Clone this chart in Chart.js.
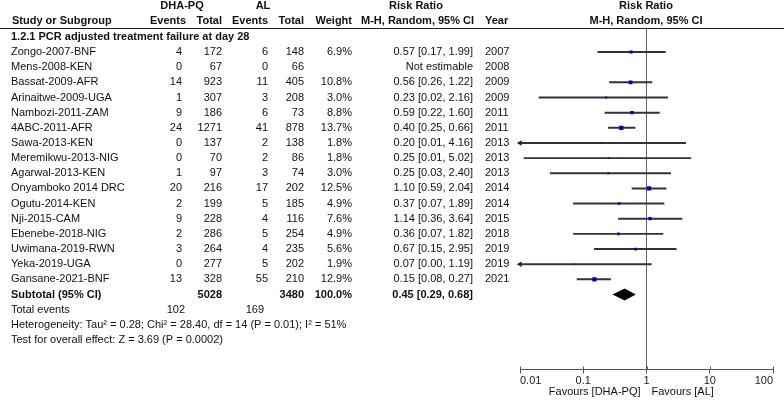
<!DOCTYPE html>
<html>
<head>
<meta charset="utf-8">
<script src="https://cdn.jsdelivr.net/npm/chart.js@4.4.1/dist/chart.umd.min.js"></script>
<style>
html,body{margin:0;padding:0;background:#fff;}
#wrap{width:784px;height:400px;}
</style>
</head>
<body>
<div id="wrap"><canvas id="c" width="784" height="400"></canvas></div>
<script>
const studies = ["Zongo-2007-BNF","Mens-2008-KEN","Bassat-2009-AFR","Arinaitwe-2009-UGA","Nambozi-2011-ZAM","4ABC-2011-AFR","Sawa-2013-KEN","Meremikwu-2013-NIG","Agarwal-2013-KEN","Onyamboko 2014 DRC","Ogutu-2014-KEN","Nji-2015-CAM","Ebenebe-2018-NIG","Uwimana-2019-RWN","Yeka-2019-UGA","Gansane-2021-BNF"];
const dhaEvents = [4,0,14,1,9,24,0,0,1,20,2,9,2,3,0,13];
const dhaTotal = [172,67,923,307,186,1271,137,70,97,216,199,228,286,264,277,328];
const alEvents = [6,0,11,3,6,41,2,2,3,17,5,4,5,4,5,55];
const alTotal = [148,66,405,208,73,878,138,86,74,202,185,116,254,235,202,210];
const weights = [6.9,null,10.8,3.0,8.8,13.7,1.8,1.8,3.0,12.5,4.9,7.6,4.9,5.6,1.9,12.9];
const rr = [0.57,null,0.56,0.23,0.59,0.40,0.20,0.25,0.25,1.10,0.37,1.14,0.36,0.67,0.07,0.15];
const ciLow = [0.17,null,0.26,0.02,0.22,0.25,0.0096,0.0116,0.03,0.59,0.07,0.36,0.07,0.15,0.004,0.08];
const ciHigh = [1.99,null,1.22,2.16,1.60,0.66,4.16,5.02,2.40,2.04,1.89,3.64,1.82,2.95,1.19,0.27];
const years = [2007,2008,2009,2009,2011,2011,2013,2013,2013,2014,2014,2015,2018,2019,2019,2021];
const summary = {rr:0.45, lo:0.29, hi:0.68, dhaTotal:5028, alTotal:3480, weight:"100.0%", dhaEv:102, alEv:169};
const tickValues = [0.01,0.1,1,10,100];
const tickLabels = ["0.01","0.1","1","10","100"];
const heading = "1.2.1 PCR adjusted treatment failure at day 28";
const hetText = "Heterogeneity: Tau\u00b2 = 0.28; Chi\u00b2 = 28.40, df = 14 (P = 0.01); I\u00b2 = 51%";
const testText = "Test for overall effect: Z = 3.69 (P = 0.0002)";

const X_MIN = 0.01, X_MAX = 100;
const Y_TOP = -1.586, Y_BOT = 20.95;
const SUB_ROW = studies.length; // 16
const FONT = '"Liberation Sans", Arial, sans-serif';

const ciData = studies.map((s,i)=> rr[i]==null ? null : ({y:i, x:[ciLow[i], ciHigh[i]]})).filter(d=>d);
const ptData = studies.map((s,i)=> rr[i]==null ? null : ({x:rr[i], y:i, w:weights[i]})).filter(d=>d);
const arrowData = studies.map((s,i)=> (rr[i]!=null && ciLow[i] < X_MIN) ? ({x:X_MIN, y:i}) : null).filter(d=>d);

const textPlugin = {
  id:'forestText',
  afterDraw(chart){
    const ctx = chart.ctx, ys = chart.scales.y, xs = chart.scales.x;
    const yp = v => ys.getPixelForValue(v);
    ctx.save();
    ctx.textBaseline = 'middle';
    ctx.fillStyle = '#111';
    const t = (str, x, y, align, bold, size) => {
      ctx.font = (bold?'bold ':'') + (size||11) + 'px ' + FONT;
      ctx.textAlign = align || 'left';
      ctx.fillText(String(str), x, y);
    };
    ctx.strokeStyle = '#222'; ctx.lineWidth = 1;
    ctx.beginPath(); ctx.moveTo(0, 28.5); ctx.lineTo(784, 28.5); ctx.stroke();
    // upper halves of the axis tick marks
    const yb = chart.chartArea.bottom;
    ctx.strokeStyle = '#555';
    tickValues.forEach(v => {
      const px = Math.round(xs.getPixelForValue(v)) + 0.5;
      ctx.beginPath(); ctx.moveTo(px, yb - 3); ctx.lineTo(px, yb); ctx.stroke();
    });
    const h1 = 6, h2 = 20.5;
    t("DHA-PQ", 182, h1, 'center', true);
    t("AL", 263, h1, 'center', true);
    t("Risk Ratio", 416, h1, 'center', true);
    t("Risk Ratio", 646, h1, 'center', true);
    t("Study or Subgroup", 12, h2, 'left', true);
    t("Events", 186, h2, 'right', true);
    t("Total", 222, h2, 'right', true);
    t("Events", 268, h2, 'right', true);
    t("Total", 304, h2, 'right', true);
    t("Weight", 352, h2, 'right', true);
    t("M-H, Random, 95% CI", 361, h2, 'left', true);
    t("Year", 485, h2, 'left', true);
    t("M-H, Random, 95% CI", 646, h2, 'center', true);
    t(heading, 11, yp(-1), 'left', true);
    studies.forEach((s,i)=>{
      const y = yp(i);
      t(s, 11, y, 'left');
      t(dhaEvents[i], 182, y, 'right');
      t(dhaTotal[i], 222, y, 'right');
      t(alEvents[i], 268, y, 'right');
      t(alTotal[i], 304, y, 'right');
      if (weights[i]!=null) t(weights[i].toFixed(1)+'%', 352, y, 'right');
      const rtxt = rr[i]==null ? "Not estimable" : rr[i].toFixed(2)+' ['+ciLow[i].toFixed(2)+', '+ciHigh[i].toFixed(2)+']';
      t(rtxt, 473, y, 'right');
      t(years[i], 485, y, 'left');
    });
    const ys16 = yp(SUB_ROW);
    t("Subtotal (95% CI)", 11, ys16, 'left', true);
    t(summary.dhaTotal, 222, ys16, 'right', true);
    t(summary.alTotal, 304, ys16, 'right', true);
    t(summary.weight, 352, ys16, 'right', true);
    t(summary.rr.toFixed(2)+' ['+summary.lo.toFixed(2)+', '+summary.hi.toFixed(2)+']', 473, ys16, 'right', true);
    t("Total events", 11, yp(SUB_ROW+1), 'left');
    t(summary.dhaEv, 185, yp(SUB_ROW+1), 'right');
    t(summary.alEv, 264, yp(SUB_ROW+1), 'right');
    t(hetText, 11, yp(SUB_ROW+2), 'left');
    t(testText, 11, yp(SUB_ROW+3), 'left');
    const x1 = xs.getPixelForValue(1);
    t("Favours [DHA-PQ]", x1 - 6, 392, 'right');
    t("Favours [AL]", x1 + 5, 392, 'left');
    const dx0 = xs.getPixelForValue(summary.lo), dx1 = xs.getPixelForValue(summary.hi), dxm = xs.getPixelForValue(summary.rr);
    ctx.fillStyle = '#000';
    ctx.beginPath();
    ctx.moveTo(dx0, ys16); ctx.lineTo(dxm, ys16-6); ctx.lineTo(dx1, ys16); ctx.lineTo(dxm, ys16+6); ctx.closePath();
    ctx.fill();
    ctx.restore();
  }
};

new Chart(document.getElementById('c'), {
  type: 'scatter',
  data: {
    datasets: [
      { type:'line', xAxisID:'x', yAxisID:'y', data:[{x:1,y:Y_TOP},{x:1,y:Y_BOT}], borderColor:'#666', borderWidth:1, pointRadius:0, order:3 },
      { type:'bar', indexAxis:'y', xAxisID:'x', yAxisID:'y', data: ciData, backgroundColor:'#333', borderWidth:0, barThickness:1.3, order:2 },
      { type:'scatter', xAxisID:'x', yAxisID:'y', data: arrowData, pointStyle:'triangle', rotation:270, pointRadius:3.2, backgroundColor:'#222', borderColor:'#222', borderWidth:0, clip:false, order:1 },
      { type:'scatter', xAxisID:'x', yAxisID:'y', data: ptData, pointStyle:'rect', backgroundColor:'#0000cc', borderColor:'#0000cc', borderWidth:0,
        pointRadius: ctx => { const w = ctx.raw && ctx.raw.w; return w ? Math.sqrt(w)*0.82 : 0; }, order:0 }
    ]
  },
  options: {
    responsive:false, animation:false,
    layout:{ padding:{left:520, right:11, top:28, bottom:0} },
    plugins:{ legend:{display:false}, tooltip:{enabled:false} },
    scales:{
      x:{
        type:'logarithmic', min:X_MIN, max:X_MAX, position:'bottom', offset:false,
        afterBuildTicks: s => { s.ticks = tickValues.map(v=>({value:v})); },
        afterFit: s => { s.height = 30.5; },
        ticks:{ align:'inner', autoSkip:false, maxRotation:0, padding:1, color:'#222',
          font:{family:'"Liberation Sans", Arial, sans-serif', size:11},
          callback: (v) => { const k = tickValues.findIndex(t=>Math.abs(t-v)/t<1e-6); return k>=0 ? tickLabels[k] : ''; } },
        grid:{ drawOnChartArea:false, drawTicks:true, tickLength:4, color:'#555', offset:false },
        border:{ display:true, color:'#555', width:1 }
      },
      y:{ type:'linear', display:false, reverse:true, min:Y_TOP, max:Y_BOT, offset:false, grid:{offset:false} }
    }
  },
  plugins:[textPlugin]
});
</script>
</body>
</html>
